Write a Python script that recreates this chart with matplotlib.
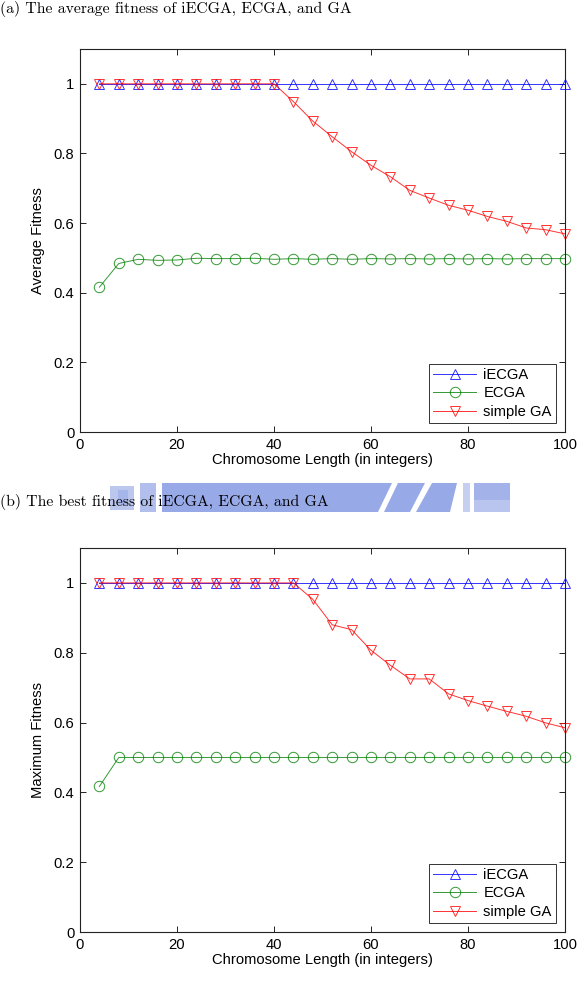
import matplotlib
matplotlib.use("Agg")
import matplotlib.pyplot as plt
from matplotlib.patches import Polygon
from matplotlib.ticker import FormatStrFormatter

# ---------------- data ----------------
lengths = [4, 8, 12, 16, 20, 24, 28, 32, 36, 40, 44, 48, 52, 56, 60,
           64, 68, 72, 76, 80, 84, 88, 92, 96, 100]

avg_iecga = [1.0] * 25
avg_ecga = [0.416, 0.484, 0.496, 0.493, 0.494, 0.499, 0.498, 0.498, 0.499, 0.496,
            0.498, 0.496, 0.498, 0.496, 0.498, 0.497, 0.498, 0.497, 0.498, 0.497,
            0.498, 0.497, 0.498, 0.498, 0.498]
avg_ga = [1.0, 1.0, 1.0, 1.0, 1.0, 1.0, 1.0, 1.0, 1.0, 1.0,
          0.949, 0.893, 0.848, 0.805, 0.766, 0.733, 0.694, 0.672, 0.651, 0.637,
          0.619, 0.605, 0.586, 0.581, 0.569]

max_iecga = [1.0] * 25
max_ecga = [0.417] + [0.5] * 24
max_ga = [1.0, 1.0, 1.0, 1.0, 1.0, 1.0, 1.0, 1.0, 1.0, 1.0, 1.0,
          0.953, 0.880, 0.866, 0.807, 0.764, 0.725, 0.725, 0.682, 0.663,
          0.647, 0.632, 0.618, 0.599, 0.585]

series_labels = ["iECGA", "ECGA", "simple GA"]
xlabel = "Chromosome Length (in integers)"
ylabels = ["Average Fitness", "Maximum Fitness"]
captions = ["(a) The average fitness of iECGA, ECGA, and GA",
            "(b) The best fitness of iECGA, ECGA, and GA"]
xticks = [0, 20, 40, 60, 80, 100]
yticks = [0, 0.2, 0.4, 0.6, 0.8, 1.0]

# ---------------- figure ----------------
W, H = 577, 988
fig = plt.figure(figsize=(W / 100, H / 100), dpi=100)
plt.rcParams['font.family'] = ['Liberation Sans', 'DejaVu Sans']

def px(x0, y0, x1, y1):
    """axes rect from pixel box (top-left origin)"""
    return [x0 / W, 1 - y1 / H, (x1 - x0) / W, (y1 - y0) / H]

axes_boxes = [px(80, 49, 565, 432), px(80, 548, 565, 932)]
data = [(avg_iecga, avg_ecga, avg_ga), (max_iecga, max_ecga, max_ga)]
colors = ["#0000ff", "#008000", "#ff0000"]
markers = ["^", "o", "v"]
FS = 10.6

for box, ys, ylab in zip(axes_boxes, data, ylabels):
    ax = fig.add_axes(box)
    for y, c, m, lab in zip(ys, colors, markers, series_labels):
        ax.plot(lengths, y, color=c, marker=m, markersize=7.5, markerfacecolor="none",
                markeredgecolor=c, markeredgewidth=0.7, linewidth=0.7, label=lab,
                clip_on=False, alpha=0.8)
    ax.set_xlim(0, 100)
    ax.set_ylim(0, 1.1)
    ax.set_xticks(xticks)
    ax.set_yticks(yticks)
    ax.yaxis.set_major_formatter(FormatStrFormatter('%g'))
    ax.tick_params(direction="in", top=True, right=True, length=4, width=0.6,
                   labelsize=FS, pad=4)
    for s in ax.spines.values():
        s.set_linewidth(0.8)
        s.set_color("#222222")
    ax.set_xlabel(xlabel, fontsize=FS, labelpad=1)
    ax.set_ylabel(ylab, fontsize=FS, labelpad=6)
    leg = ax.legend(loc="lower right", fontsize=10.6, frameon=True, fancybox=False,
                    framealpha=1, edgecolor="#333333", handlelength=2.9,
                    borderpad=0.3, labelspacing=0.3, handletextpad=0.5,
                    borderaxespad=0.6)
    leg.get_frame().set_linewidth(0.7)

# ---------------- captions ----------------
fig.text(0.0, 1 - 13 / H, captions[0], fontname="cmr10", fontsize=11.3,
         ha="left", va="baseline", zorder=5)
fig.text(0.0, 1 - 506.5 / H, captions[1], fontname="cmr10", fontsize=11.3,
         ha="left", va="baseline", zorder=5)

# ---------------- blue banner artifact behind caption (b) ----------------
def fpoly(pts, color):
    p = Polygon([(x / W, 1 - y / H) for x, y in pts], closed=True,
                transform=fig.transFigure, facecolor=color, edgecolor="none", zorder=1)
    fig.patches.append(p)

band = "#97a9e6"
fpoly([(110, 486), (134, 486), (134, 510), (110, 510)], "#bcc7ee")
fpoly([(118, 490), (128, 490), (128, 505), (118, 505)], "#a6b5ea")
fpoly([(140, 483), (156, 483), (156, 512), (140, 512)], "#b2bfec")
fpoly([(162, 483), (370, 483), (370, 512), (162, 512)], band)
fpoly([(370, 483), (392, 483), (378, 512), (370, 512)], band)
fpoly([(398, 483), (425, 483), (410, 512), (384, 512)], band)
fpoly([(432, 483), (457, 483), (450, 512), (416, 512)], band)
fpoly([(463, 483), (470, 483), (470, 512), (463, 512)], "#c6cfef")
fpoly([(474, 483), (510, 483), (510, 500), (474, 500)], "#a3b3e9")
fpoly([(474, 500), (510, 500), (510, 512), (474, 512)], "#b9c5ee")

fig.savefig("out.png", dpi=100)
